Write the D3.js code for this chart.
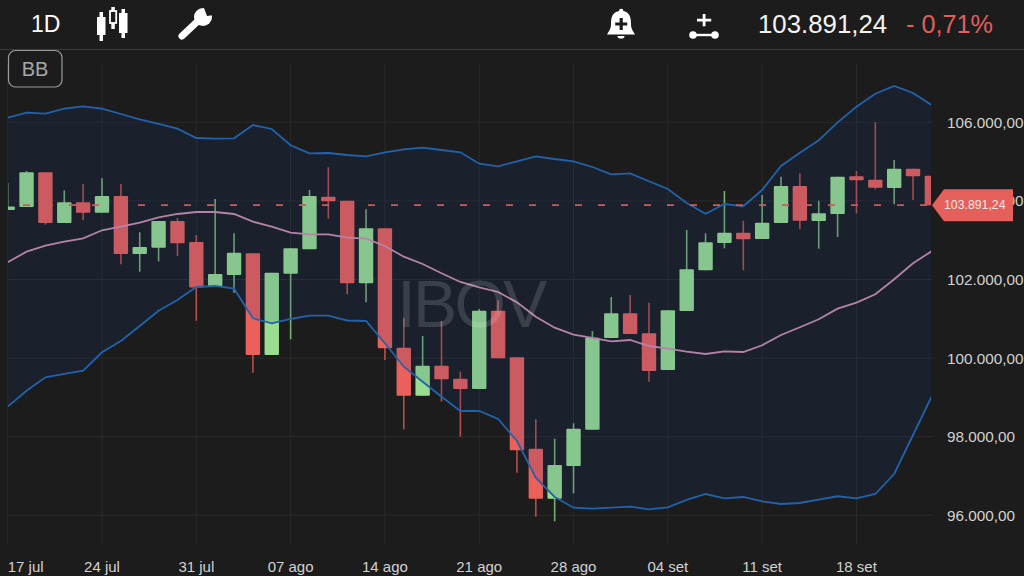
<!DOCTYPE html>
<html>
<head>
<meta charset="utf-8">
<script src="https://cdn.jsdelivr.net/npm/d3@7"></script>
<style>
  html, body { margin: 0; padding: 0; background: #1c1c1c; overflow: hidden; }
  svg { display: block; }
  text { font-family: "Liberation Sans", sans-serif; }
</style>
</head>
<body>
<div id="chart"></div>
<script>
// pregoes de 17 jul a 22 set
var dates = ["17 jul","18 jul","19 jul","20 jul","21 jul","24 jul","25 jul","26 jul","27 jul","28 jul",
    "31 jul","01 ago","02 ago","03 ago","04 ago","07 ago","08 ago","09 ago","10 ago","11 ago",
    "14 ago","15 ago","16 ago","17 ago","18 ago","21 ago","22 ago","23 ago","24 ago","25 ago",
    "28 ago","29 ago","30 ago","31 ago","01 set","04 set","05 set","06 set","07 set","08 set",
    "11 set","12 set","13 set","14 set","15 set","18 set","19 set","20 set","21 set","22 set"];

var open = [103768,103845,104728,103438,103964,103700,104125,102649,102809,103489,
    102954,101809,102115,102667,100079,102148,102769,104107,104005,101903,
    103303,100265,99043,99807,99476,99214,101206,100020,97695,96423,
    97254,98178,100512,101140,100631,99697,101198,102234,102929,103191,
    103031,103438,104379,103489,103667,104626,104540,104328,104820,104641];

var close = [103858,104728,103438,103964,103700,104125,102649,102827,103489,102921,
    101796,102140,102682,100079,102173,102794,104125,103990,101903,103303,
    100249,99043,99807,99461,99214,101206,99995,97654,96423,97280,
    98204,100519,101140,100613,99672,101216,102260,102947,103191,103023,
    103445,104379,103496,103685,104616,104524,104336,104820,104626,103891];

var high = [104456,104761,104728,104270,104430,104575,104430,103201,103489,103565,
    103132,104049,103176,102667,102173,102794,104277,104855,104005,103786,
    103303,101013,100563,100944,99654,101249,101471,100020,98443,97949,
    98341,100690,101555,101606,101410,101216,103260,103176,104252,103496,
    104150,104616,104702,104005,104616,104761,106000,105041,104820,104888];

var low = [103768,103845,103394,103438,103514,103700,102387,102199,102463,102598,
    100952,101809,101664,99629,100079,100478,102769,103547,101623,101420,
    99952,98188,99043,98891,98000,99214,99995,97084,95964,95847,
    96560,98178,100512,100613,99400,99697,101198,102234,102794,102234,
    103031,103438,103277,102784,103082,103685,104295,103914,104023,103496];

var bbUpper = [106117,106244,106219,106346,106407,106346,106211,106076,105957,105837,
    105600,105583,105593,105931,105830,105415,105211,105219,105168,105135,
    105237,105313,105354,105295,105237,104947,104881,105008,105135,105066,
    105008,104863,104677,104702,104499,104303,103947,103674,103921,103863,
    104277,104888,105227,105542,106000,106397,106728,106924,106746,106433];

var bbMiddle = [102438,102708,102860,102962,103048,103252,103343,103445,103583,103667,
    103718,103718,103667,103471,103343,103191,103150,103150,103064,103038,
    102853,102580,102394,102158,101937,101801,101682,101420,101054,100774,
    100596,100512,100427,100461,100308,100239,100163,100104,100173,100155,
    100326,100588,100784,100987,101257,101410,101623,102005,102412,102725];

var bbLower = [98764,99170,99512,99596,99680,100148,100435,100817,101206,101478,
    101809,101835,101766,101013,100886,100995,101079,101079,100957,100944,
    100377,99781,99400,99018,98654,98654,98450,97891,96957,96466,
    96194,96168,96194,96219,96153,96204,96390,96542,96433,96466,
    96357,96288,96313,96397,96484,96433,96542,97051,98043,99036];

var xTickLabels = ["17 jul","24 jul","31 jul","07 ago","14 ago","21 ago","28 ago","04 set","11 set","18 set"];
var yTickValues = [96000,98000,100000,102000,104000,106000];
var lastPrice = 103891.24;

var width = 1024, height = 576;
var plotLeft = 7.7, plotRight = 931.9;
var clipLeft = 8, clipRight = 931;
var green = "#9bdd90", red = "#ea605a";

var svg = d3.select("#chart").append("svg")
    .attr("width", width)
    .attr("height", height)
    .style("background", "#1c1c1c");

svg.append("defs").append("clipPath")
    .attr("id", "plot-clip")
    .append("rect")
    .attr("x", clipLeft)
    .attr("y", 60)
    .attr("width", clipRight - clipLeft)
    .attr("height", 490);

var x = d3.scalePoint().domain(dates).range([plotLeft, plotRight]);
var y = d3.scaleLinear().domain([96000, 106000]).range([515.3, 122.3]);

function fmt(v) {
    return v.toLocaleString("pt-BR", { minimumFractionDigits: 2, maximumFractionDigits: 2 });
}

/*
 * grid lines and both axes labels
 */
function renderGrid() {
    var grid = svg.append("g").attr("stroke", "#2a2a2b").attr("stroke-width", 1);

    grid.selectAll("line.h")
        .data(yTickValues)
        .enter().append("line")
        .attr("class", "h")
        .attr("x1", clipLeft)
        .attr("x2", clipRight + 1)
        .attr("y1", function(d) { return y(d); })
        .attr("y2", function(d) { return y(d); });

    grid.selectAll("line.v")
        .data(xTickLabels)
        .enter().append("line")
        .attr("class", "v")
        .attr("x1", function(d) { return x(d); })
        .attr("x2", function(d) { return x(d); })
        .attr("y1", 64)
        .attr("y2", 544);

    svg.append("g")
        .selectAll("text")
        .data(xTickLabels)
        .enter().append("text")
        .attr("x", function(d, i) { return i === 0 ? x(d) + 18 : x(d); })
        .attr("y", 572)
        .attr("text-anchor", "middle")
        .attr("font-size", 15)
        .attr("fill", "#d2d2d2")
        .text(function(d) { return d; });

    svg.append("g")
        .selectAll("text")
        .data(yTickValues)
        .enter().append("text")
        .attr("x", 947)
        .attr("y", function(d) { return y(d) + 5.5; })
        .attr("font-size", 15.3)
        .attr("fill", "#d2d2d2")
        .text(function(d) { return fmt(d); });
}

/*
 * candles, the band fill goes above them so they get tinted inside it
 */
function renderCandles(g) {
    var candle = g.selectAll("g.candle")
        .data(dates)
        .enter().append("g")
        .attr("class", "candle");

    function colour(i) { return close[i] >= open[i] ? green : red; }

    candle.append("line")
        .attr("x1", function(d) { return x(d); })
        .attr("x2", function(d) { return x(d); })
        .attr("y1", function(d, i) { return y(high[i]); })
        .attr("y2", function(d, i) { return y(low[i]); })
        .attr("stroke", function(d, i) { return colour(i); })
        .attr("stroke-opacity", 0.75)
        .attr("stroke-width", 1.6);

    candle.append("rect")
        .attr("x", function(d) { return x(d) - 7.2; })
        .attr("width", 14.4)
        .attr("y", function(d, i) { return y(Math.max(open[i], close[i])); })
        .attr("height", function(d, i) { return Math.abs(y(open[i]) - y(close[i])); })
        .attr("rx", 1)
        .attr("fill", function(d, i) { return colour(i); });
}

function renderBands(g) {
    var area = d3.area()
        .x(function(d) { return x(d); })
        .y0(function(d, i) { return y(bbLower[i]); })
        .y1(function(d, i) { return y(bbUpper[i]); });

    g.append("path")
        .datum(dates)
        .attr("d", area)
        .attr("fill", "rgb(14,63,140)")
        .attr("fill-opacity", 0.14);

    var series = [
        { values: bbUpper, color: "#2162ad" },
        { values: bbLower, color: "#2162ad" },
        { values: bbMiddle, color: "#b583a9" }
    ];

    series.forEach(function(s) {
        var line = d3.line()
            .x(function(d) { return x(d); })
            .y(function(d, i) { return y(s.values[i]); });

        g.append("path")
            .datum(dates)
            .attr("d", line)
            .attr("fill", "none")
            .attr("stroke", s.color)
            .attr("stroke-width", 1.8);
    });
}

function renderLastPrice(g) {
    g.append("line")
        .attr("x1", clipLeft)
        .attr("x2", clipRight)
        .attr("y1", y(lastPrice))
        .attr("y2", y(lastPrice))
        .attr("stroke", "#cf5a5a")
        .attr("stroke-width", 1.8)
        .attr("stroke-dasharray", "7 16")
        .attr("stroke-dashoffset", -15);

    var py = y(lastPrice);
    svg.append("path")
        .attr("d", "M932," + py + "L944," + (py - 16) + "L1013," + (py - 16) + "L1013," + (py + 16) + "L944," + (py + 16) + "Z")
        .attr("fill", "#e5605b");

    svg.append("text")
        .attr("x", 944)
        .attr("y", py + 4.3)
        .attr("font-size", 12.3)
        .attr("fill", "#ffe9e6")
        .text(fmt(lastPrice));
}

/*
 * header with interval, icons, price and the BB button
 */
function renderHeader() {
    var head = svg.append("g");
    var white = "#ffffff", bg = "#1c1c1c";

    head.append("line")
        .attr("x1", 0).attr("x2", width)
        .attr("y1", 49.5).attr("y2", 49.5)
        .attr("stroke", "#3c3c3c");

    head.append("text")
        .attr("x", 31).attr("y", 32)
        .attr("font-family", "Roboto")
        .attr("font-weight", 300)
        .attr("font-size", 23)
        .attr("fill", white)
        .text("1D");

    // candles icon
    head.append("path").attr("fill", white)
        .attr("d", "M97,17h8.5v18h-8.5zM99.5,12h3.5v29h-3.5zM119,13h8.5v20h-8.5zM121.5,9h3.5v29h-3.5z");
    head.append("path").attr("fill", white)
        .attr("d", "M111.3,7h3.5v4h-3.5zM111.3,23h3.5v6h-3.5z");
    head.append("rect")
        .attr("x", 110).attr("y", 11).attr("width", 6.2).attr("height", 12)
        .attr("fill", "none").attr("stroke", white).attr("stroke-width", 1.8);

    // wrench icon
    head.append("line")
        .attr("x1", 182).attr("y1", 36).attr("x2", 199).attr("y2", 20)
        .attr("stroke", white).attr("stroke-width", 7).attr("stroke-linecap", "round");
    head.append("circle").attr("cx", 203).attr("cy", 17).attr("r", 9).attr("fill", white);
    head.append("path").attr("fill", bg).attr("d", "M204,8L214,6L214,15L207,16Z");

    // alert bell icon
    head.append("path").attr("fill", white)
        .attr("d", "M619,11a2.2,2.2,0,0,1,4.4,0C630,12.5,631,18,631,24C631,29,633,31,635,34.5L607,34.5C609,31,611,29,611,24C611,18,612,12.5,619,11Z");
    head.append("path").attr("fill", white).attr("d", "M617.5,36h7a3.5,2.6,0,0,1,-7,0Z");
    head.append("path").attr("fill", bg).attr("d", "M619.6,18h3.2v4.4h4.4v3.2h-4.4v4.4h-3.2v-4.4h-4.4v-3.2h4.4Z");

    // line tool icon
    head.append("path").attr("fill", white).attr("d", "M702.7,14h2.8v4.7h5.7v2.8h-5.7v4.7h-2.8v-4.7h-5.7v-2.8h5.7Z");
    head.append("line")
        .attr("x1", 693).attr("x2", 715).attr("y1", 35).attr("y2", 35)
        .attr("stroke", white).attr("stroke-width", 2.4);
    head.selectAll("circle.end")
        .data([693, 715])
        .enter().append("circle")
        .attr("class", "end")
        .attr("cx", function(d) { return d; })
        .attr("cy", 35)
        .attr("r", 3.8)
        .attr("fill", white);

    head.append("text")
        .attr("x", 758).attr("y", 33)
        .attr("font-family", "Roboto")
        .attr("font-weight", 300)
        .attr("font-size", 25.8)
        .attr("fill", "#f4f4f4")
        .text("103.891,24");

    head.append("text")
        .attr("x", 906).attr("y", 33)
        .attr("font-family", "Roboto")
        .attr("font-weight", 300)
        .attr("font-size", 25.2)
        .attr("fill", "#e0605c")
        .text("- 0,71%");

    head.append("rect")
        .attr("x", 8.5).attr("y", 50.5).attr("width", 53.5).attr("height", 36.5).attr("rx", 7)
        .attr("fill", "none").attr("stroke", "#9a9a9a").attr("stroke-width", 1.2);

    head.append("text")
        .attr("x", 35).attr("y", 76)
        .attr("text-anchor", "middle")
        .attr("font-size", 20)
        .attr("fill", "#a8a8a8")
        .text("BB");
}

renderGrid();

var plot = svg.append("g").attr("clip-path", "url(#plot-clip)");
renderCandles(plot);
renderBands(plot);
renderLastPrice(plot);

// watermark
svg.append("text")
    .attr("x", 471)
    .attr("y", 326.5)
    .attr("text-anchor", "middle")
    .attr("font-family", "Roboto")
    .attr("font-weight", 300)
    .attr("font-size", 66)
    .attr("letter-spacing", -2.5)
    .attr("fill", "#ffffff")
    .attr("fill-opacity", 0.14)
    .text("IBOV");

renderHeader();
</script>
</body>
</html>
